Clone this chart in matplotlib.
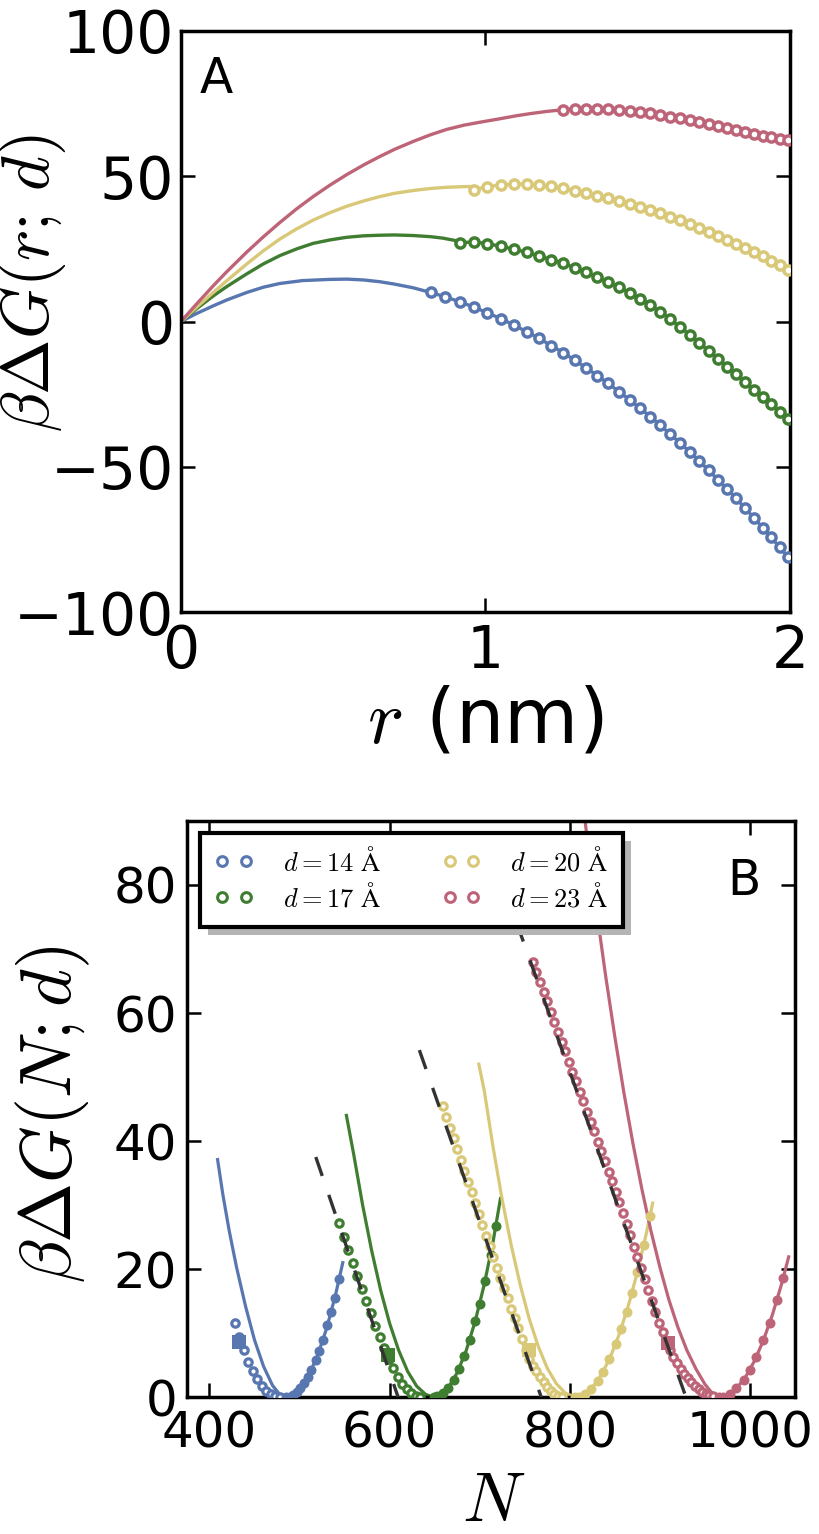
import matplotlib
matplotlib.use('Agg')
import matplotlib.pyplot as plt
from matplotlib.lines import Line2D
from matplotlib.patches import Rectangle
from matplotlib.transforms import IdentityTransform

plt.rcParams['mathtext.fontset'] = 'cm'
plt.rcParams['font.family'] = ['DejaVu Sans']

blue = '#5877b0'
green = '#3f7d31'
yellow = '#d8c877'
pink = '#be6478'
dark = '#333333'

# ---------------- panel A : beta dG(r; d) ----------------
r_line_14 = [0, 0.05, 0.106, 0.15, 0.216, 0.27, 0.325, 0.4, 0.49, 0.545, 0.6, 0.653, 0.7, 0.763, 0.82]
g_line_14 = [0, 2.7, 5.4, 7.4, 10.0, 11.8, 13.1, 14.1, 14.5, 14.6, 14.3, 13.7, 12.9, 11.6, 10.0]
r_line_17 = [0, 0.05, 0.106, 0.15, 0.216, 0.27, 0.325, 0.38, 0.434, 0.49, 0.545, 0.6, 0.653, 0.7,
             0.763, 0.82, 0.86, 0.915]
g_line_17 = [0, 4.3, 8.8, 12.0, 16.4, 19.8, 22.7, 25.0, 26.9, 28.1, 29.0, 29.5, 29.7, 29.8,
             29.6, 29.2, 28.7, 27.6]
r_line_20 = [0, 0.05, 0.106, 0.15, 0.216, 0.27, 0.325, 0.38, 0.434, 0.49, 0.545, 0.6, 0.653, 0.7,
             0.763, 0.82, 0.872, 0.92, 0.961]
g_line_20 = [0, 4.8, 10.0, 14.0, 19.8, 24.3, 28.4, 31.9, 34.9, 37.5, 39.7, 41.5, 43.0, 44.1,
             45.1, 45.8, 46.2, 46.4, 46.5]
r_line_23 = [0, 0.05, 0.106, 0.15, 0.216, 0.27, 0.325, 0.38, 0.434, 0.49, 0.545, 0.6, 0.653, 0.7,
             0.763, 0.82, 0.872, 0.93, 0.982, 1.048, 1.1, 1.15, 1.2, 1.255]
g_line_23 = [0, 5.9, 12.3, 17.1, 23.9, 29.1, 34.1, 38.8, 43.0, 47.0, 50.6, 53.9, 56.8, 59.2,
             62.0, 64.3, 66.1, 67.6, 68.6, 69.8, 70.8, 71.6, 72.3, 72.9]

# simulation points, each series uses the tail of this r grid
r_dots = [0.820, 0.868, 0.915, 0.961, 1.006, 1.050, 1.093, 1.135, 1.176, 1.216, 1.255, 1.293,
          1.330, 1.367, 1.403, 1.438, 1.473, 1.507, 1.541, 1.574, 1.607, 1.639, 1.671, 1.702,
          1.733, 1.763, 1.793, 1.823, 1.852, 1.881, 1.910, 1.938, 1.966, 1.994]
g_dots_14 = [10.0, 8.5, 6.8, 5.0, 3.0, 1.0, -1.2, -3.5, -5.8, -8.3, -10.7, -13.3, -15.9, -18.6,
             -21.3, -24.1, -26.9, -29.8, -32.7, -35.7, -38.8, -41.8, -44.9, -48.0, -51.2, -54.4,
             -57.6, -60.9, -64.2, -67.5, -70.9, -74.3, -77.7, -81.2]
g_dots_17 = [27.1, 27.4, 26.8, 25.9, 24.9, 23.8, 22.6, 21.3, 20.0, 18.5, 16.9, 15.3, 13.5, 11.8,
             9.9, 7.9, 5.7, 3.4, 0.8, -1.9, -4.6, -7.3, -10.1, -12.8, -15.5, -18.2, -20.8, -23.4,
             -26.0, -28.5, -31.0, -33.5]
g_dots_20 = [45.4, 46.4, 47.0, 47.3, 47.3, 47.0, 46.5, 45.8, 45.0, 44.2, 43.3, 42.4, 41.4, 40.4,
             39.4, 38.3, 37.2, 36.0, 34.8, 33.5, 32.2, 30.9, 29.6, 28.2, 26.8, 25.4, 23.9, 22.4,
             20.9, 19.3, 17.6]
g_dots_23 = [72.9, 73.2, 73.3, 73.3, 73.1, 72.8, 72.5, 72.1, 71.7, 71.1, 70.5, 69.9, 69.2, 68.6,
             67.9, 67.2, 66.5, 65.8, 65.1, 64.5, 63.9, 63.4, 62.9, 62.4]

# ---------------- panel B : beta dG(N; d) ----------------
N_line_14 = [409, 415, 422, 430, 440, 450, 460, 470, 478, 485, 490, 500, 510, 520, 530, 540, 548]
G_line_14 = [37.1, 31.5, 25.9, 20.3, 14.2, 8.9, 4.8, 1.8, 0.4, 0.0, 0.13, 1.2, 3.3, 6.5, 10.7, 16.0, 21.0]
N_open_14 = [428, 433, 438, 443, 448, 453, 458, 463, 468, 473, 478]
G_open_14 = [11.5, 9.3, 7.3, 5.5, 4.0, 2.8, 1.7, 0.9, 0.4, 0.1, 0.0]
N_fill_14 = [485, 489, 493, 497, 501, 505, 509, 513, 518, 522, 526, 531, 535, 539, 544]
G_fill_14 = [0.0, 0.08, 0.34, 0.76, 1.36, 2.12, 3.05, 4.16, 5.77, 7.26, 8.91, 11.21, 13.25, 15.45, 18.45]
sq_14 = (433, 8.6)

N_line_17 = [552, 560, 570, 580, 590, 600, 610, 620, 630, 640, 649, 657, 665, 675, 685, 695, 705, 715, 723]
G_line_17 = [44.0, 38.0, 30.0, 22.9, 16.7, 11.5, 7.3, 4.0, 1.7, 0.4, 0.0, 0.36, 1.43, 3.79, 7.26,
             11.85, 17.56, 24.4, 31.0]
N_open_17 = [544, 549, 554, 559, 564, 569, 574, 579, 584, 589, 594, 599, 604, 609, 614, 619, 624, 629, 634]
G_open_17 = [27.2, 25.0, 22.9, 20.9, 18.9, 16.9, 15.0, 13.1, 11.1, 9.3, 7.6, 6.0, 4.5, 3.2, 2.1,
             1.2, 0.6, 0.2, 0.05]
N_fill_17 = [649, 653, 659, 665, 671, 677, 683, 689, 695, 700, 706, 712, 718]
G_fill_17 = [0.0, 0.09, 0.56, 1.43, 2.71, 4.39, 6.47, 8.96, 11.85, 14.57, 18.19, 22.23, 26.66]
sq_17 = (598, 6.6)
N_dash_17 = [518, 613]
G_dash_17 = [37.5, -1.5]

N_line_20 = [699, 705, 715, 725, 735, 745, 755, 765, 775, 785, 795, 806, 815, 825, 835, 845, 855,
             865, 875, 885, 892]
G_line_20 = [52.0, 47.9, 38.9, 30.8, 23.7, 17.5, 12.2, 7.9, 4.5, 2.1, 0.6, 0.0, 0.33, 1.48, 3.45,
             6.24, 9.84, 14.27, 19.5, 25.6, 30.3]
N_open_20 = [659, 663, 667, 671, 675, 679, 683, 687, 691, 695, 699, 703, 707, 711, 715, 719, 723,
             727, 731, 735, 739, 743, 747, 751, 755, 759, 763, 767, 771, 775, 779, 783, 787, 791]
G_open_20 = [45.4, 43.7, 42.0, 40.4, 38.7, 37.0, 35.3, 33.6, 32.0, 30.3, 28.6, 26.9, 25.2, 23.6,
             21.9, 20.2, 18.6, 17.0, 15.4, 13.8, 12.3, 10.8, 9.0, 7.4, 6.0, 4.9, 4.0, 3.1, 2.3,
             1.6, 1.0, 0.5, 0.2, 0.05]
N_fill_20 = [806, 810, 817, 824, 831, 837, 844, 851, 857, 863, 869, 875, 882, 889]
G_fill_20 = [0.0, 0.07, 0.5, 1.33, 2.56, 3.94, 5.92, 8.3, 10.66, 13.32, 16.27, 19.52, 23.68, 28.24]
sq_20 = (755, 7.3)
N_dash_20 = [633, 772]
G_dash_20 = [54.2, -1.5]

N_line_23 = [800, 810, 820, 830, 840, 850, 860, 870, 880, 890, 900, 910, 920, 930, 940, 950, 958,
             966, 975, 985, 995, 1005, 1015, 1025, 1035, 1043]
G_line_23 = [110.3, 98.0, 86.5, 75.7, 65.6, 56.3, 47.6, 39.7, 32.5, 26.0, 20.3, 15.2, 10.9, 7.3,
             4.4, 2.0, 0.6, 0.0, 0.30, 1.34, 3.11, 5.63, 8.88, 12.88, 17.6, 21.9]
N_open_23 = [759, 763, 767, 771, 775, 779, 783, 787, 791, 795, 799, 803, 807, 811, 815, 819, 823,
             827, 831, 835, 839, 843, 847, 851, 855, 859, 863, 867, 871, 875, 879, 883, 887, 891,
             895, 899, 903, 907, 911, 915, 919, 923, 927, 931, 935, 939, 943, 947, 951, 955, 959]
G_open_23 = [68.0, 66.4, 64.9, 63.3, 61.8, 60.2, 58.6, 57.1, 55.5, 54.0, 52.4, 50.8, 49.3, 47.7,
             46.2, 44.6, 43.0, 41.5, 39.9, 38.4, 36.8, 35.2, 33.7, 32.1, 30.4, 28.7, 27.0, 25.3,
             23.5, 21.8, 20.1, 18.4, 16.7, 15.0, 13.3, 11.6, 10.1, 8.7, 7.4, 6.3, 5.3, 4.4, 3.6,
             2.9, 2.3, 1.7, 1.2, 0.8, 0.5, 0.3, 0.15]
N_fill_23 = [966, 970, 978, 985, 993, 1000, 1007, 1015, 1022, 1030, 1037]
G_fill_23 = [0.0, 0.06, 0.53, 1.34, 2.70, 4.28, 6.22, 8.88, 11.6, 15.16, 18.65]
sq_23 = (909, 8.5)
N_dash_23 = [726, 933]
G_dash_23 = [80.0, -1.6]

labels = [r'$d=14\ \mathrm{\AA}$', r'$d=17\ \mathrm{\AA}$', r'$d=20\ \mathrm{\AA}$', r'$d=23\ \mathrm{\AA}$']
colors = [blue, green, yellow, pink]

fig = plt.figure(figsize=(8.2, 15.34), dpi=100)
axA = fig.add_axes([0.2207, 0.601, 0.7427, 0.3788])
axB = fig.add_axes([0.228, 0.0893, 0.7415, 0.3755])

for ax in (axA, axB):
    for s in ax.spines.values():
        s.set_linewidth(2.5)
    ax.tick_params(direction='in', length=10, width=1.8, top=True, right=True)

# ---- A
linesA = [(r_line_14, g_line_14, g_dots_14), (r_line_17, g_line_17, g_dots_17),
          (r_line_20, g_line_20, g_dots_20), (r_line_23, g_line_23, g_dots_23)]
for (rl, gl, gd), c in zip(linesA, colors):
    axA.plot(rl, gl, '-', color=c, lw=2.4, zorder=2)
    axA.plot(r_dots[-len(gd):], gd, '-o', color=c, lw=2.4, ms=6.6, mew=2.5,
             mfc='white', mec=c, zorder=3)

axA.set_xlim(0, 2)
axA.set_ylim(-100, 100)
axA.set_xticks([0, 1, 2])
axA.set_yticks([-100, -50, 0, 50, 100])
axA.tick_params(labelsize=42)
axA.tick_params(axis='x', pad=8)
axA.tick_params(axis='y', pad=5)
axA.set_xlabel(r'$r$ (nm)', fontsize=55)
axA.xaxis.set_label_coords(0.5, -0.125)
axA.set_ylabel(r'$\beta\Delta G(r;\,d)$', fontsize=48)
axA.yaxis.set_label_coords(-0.185, 0.566)
axA.text(0.031, 0.958, 'A', transform=axA.transAxes, fontsize=35, ha='left', va='top')

# ---- B
seriesB = [
    (N_line_14, G_line_14, N_open_14, G_open_14, N_fill_14, G_fill_14, sq_14, None, None),
    (N_line_17, G_line_17, N_open_17, G_open_17, N_fill_17, G_fill_17, sq_17, N_dash_17, G_dash_17),
    (N_line_20, G_line_20, N_open_20, G_open_20, N_fill_20, G_fill_20, sq_20, N_dash_20, G_dash_20),
    (N_line_23, G_line_23, N_open_23, G_open_23, N_fill_23, G_fill_23, sq_23, N_dash_23, G_dash_23),
]
for (Nl, Gl, No, Go, Nf, Gf, sq, Nd, Gd), c in zip(seriesB, colors):
    axB.plot(Nl, Gl, '-', color=c, lw=2.3, zorder=2)
    axB.plot(No, Go, 'o', ms=5.3, mew=2.3, mfc='white', mec=c, zorder=3)
    axB.plot(Nf, Gf, 'o', ms=7.2, mew=0, color=c, zorder=3)
    axB.plot([sq[0]], [sq[1]], 's', ms=10.5, mew=0, color=c, zorder=4)
    if Nd is not None:
        axB.plot(Nd, Gd, '--', color=dark, lw=2.4, dashes=(6, 6), zorder=5)

axB.set_xlim(375, 1050)
axB.set_ylim(0, 90)
axB.set_xticks([400, 600, 800, 1000])
axB.set_yticks([0, 20, 40, 60, 80])
axB.tick_params(labelsize=36)
axB.tick_params(axis='x', pad=9)
axB.tick_params(axis='y', pad=7)
axB.set_xlabel(r'$N$', fontsize=50)
axB.xaxis.set_label_coords(0.505, -0.124)
axB.set_ylabel(r'$\beta\Delta G(N;d)$', fontsize=52)
axB.yaxis.set_label_coords(-0.156, 0.491)
axB.text(0.888, 0.938, 'B', transform=axB.transAxes, fontsize=35, ha='left', va='top')

handles = [Line2D([], [], ls='none', marker='o', ms=7.0, mew=2.2, mfc='white', mec=c) for c in colors]
leg = axB.legend(handles, labels, ncol=2, numpoints=2, loc='upper left',
                 bbox_to_anchor=(0.021, 0.979), borderaxespad=0, fontsize=19,
                 fancybox=False, framealpha=1, edgecolor='black', handlelength=1.5,
                 handletextpad=1.1, columnspacing=2.3, borderpad=0.55, labelspacing=0.25)
leg.get_frame().set_linewidth(3)
leg.set_zorder(10)

fig.canvas.draw()
bb = leg.get_window_extent()
shadow = Rectangle((bb.x0 + 8, bb.y0 - 8), bb.width, bb.height, transform=IdentityTransform(),
                   facecolor='#b4b4b4', edgecolor='none', zorder=9, clip_on=False)
axB.add_artist(shadow)

fig.savefig('out.png', dpi=100)
